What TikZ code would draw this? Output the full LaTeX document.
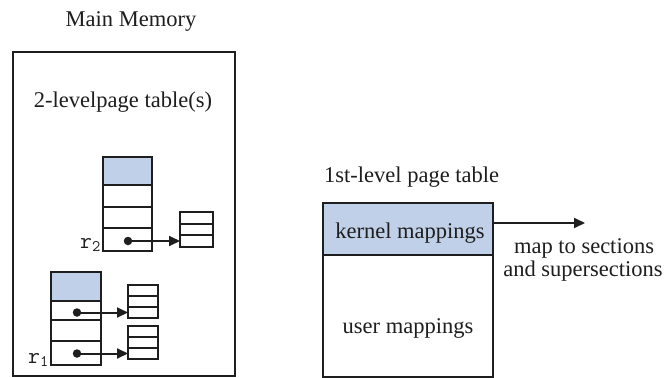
\documentclass[tikz,border=0pt]{standalone}
\usepackage{fontspec}
\setmainfont{Liberation Serif}
\usetikzlibrary{arrows.meta}
\definecolor{shade}{RGB}{192,208,232}
\definecolor{ink}{RGB}{30,30,30}
\begin{document}
\begin{tikzpicture}[x=1pt,y=-1pt,
 cell/.style={draw=ink,line width=2pt,inner sep=0pt,outer sep=0pt,anchor=north west},
 lbl/.style={font=\fontsize{22.5}{27}\selectfont,text=ink,inner sep=0pt,anchor=base},
 reg/.style={font=\fontsize{23}{26}\ttfamily,text=ink,inner sep=1pt,anchor=base east},
 ptr/.style={draw=ink,line width=2pt,-{Triangle[length=11pt,width=10pt]}},
 pdot/.style={circle,fill=ink,inner sep=0pt,minimum size=8.5pt}]
\useasboundingbox[fill=white] (0,0) rectangle (665,378);

% main memory frame
\node[cell,minimum width=222pt,minimum height=324pt] (mm) at (13,52) {};
\node[lbl] (title) at (131,26) {Main Memory};
\node[lbl] (lvl2) at (123,107) {2-levelpage table(s)};

% upper 2nd-level table (r2)
\node[cell,fill=shade,minimum width=49pt,minimum height=28pt] (a1) at (103,157) {};
\node[cell,minimum width=49pt,minimum height=22pt] (a2) at (103,185) {};
\node[cell,minimum width=49pt,minimum height=21pt] (a3) at (103,207) {};
\node[cell,minimum width=49pt,minimum height=23pt] (a4) at (103,228) {};
\node[reg] (r2) at (102,248) {r\textsubscript{2}};

% small table A
\node[cell,minimum width=33pt,minimum height=11.7pt] (sa1) at (180,212) {};
\node[cell,minimum width=33pt,minimum height=11.7pt] (sa2) at (180,223.7) {};
\node[cell,minimum width=33pt,minimum height=11.6pt] (sa3) at (180,235.4) {};

% lower 2nd-level table (r1)
\node[cell,fill=shade,minimum width=50pt,minimum height=29pt] (b1) at (51,272) {};
\node[cell,minimum width=50pt,minimum height=19pt] (b2) at (51,301) {};
\node[cell,minimum width=50pt,minimum height=21pt] (b3) at (51,320) {};
\node[cell,minimum width=50pt,minimum height=24pt] (b4) at (51,341) {};
\node[reg] (r1) at (50,363) {r\textsubscript{1}};

% small table C
\node[cell,minimum width=30pt,minimum height=11pt] (sc1) at (128,285) {};
\node[cell,minimum width=30pt,minimum height=11pt] (sc2) at (128,296) {};
\node[cell,minimum width=30pt,minimum height=11pt] (sc3) at (128,307) {};

% small table D
\node[cell,minimum width=30pt,minimum height=11pt] (sd1) at (128,326) {};
\node[cell,minimum width=30pt,minimum height=11pt] (sd2) at (128,337) {};
\node[cell,minimum width=30pt,minimum height=11pt] (sd3) at (128,348) {};

% pointers
\node[pdot] (d2) at (128,241) {};
\node[pdot] (dc) at (77,312.5) {};
\node[pdot] (dd) at (77,353.5) {};
\draw[ptr] (d2.center) -- (d2.center -| sa3.west);
\draw[ptr] (dc.center) -- (dc.center -| sc3.west);
\draw[ptr] (dd.center) -- (dd.center -| sd3.west);

% 1st-level page table
\node[lbl,anchor=base west] (lvl1) at (324,182) {1st-level page table};
\node[cell,fill=shade,minimum width=170pt,minimum height=52pt] (k) at (323,203) {};
\node[cell,minimum width=170pt,minimum height=122pt] (u) at (323,255) {};
\node[lbl] (kt) at (410,238) {kernel mappings};
\node[lbl] (ut) at (408,333) {user mappings};
\coordinate (mapend) at (585,223);
\draw[ptr] ([yshift=6pt]k.east) -- (mapend);
\node[lbl] (m1) at (584,253) {map to sections};
\node[lbl] (m2) at (583,276) {and supersections};
\end{tikzpicture}
\end{document}
